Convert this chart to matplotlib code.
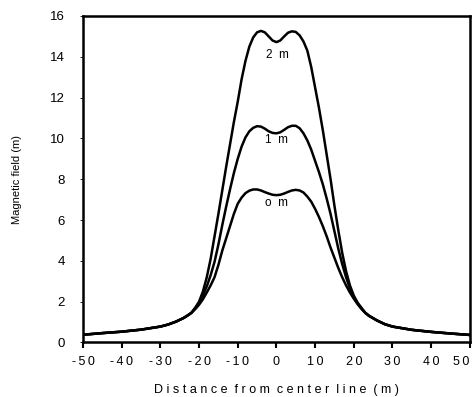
import matplotlib
matplotlib.use('Agg')
import matplotlib.pyplot as plt

plt.rcParams['font.family'] = ['Liberation Sans', 'DejaVu Sans']

# Distance from center line (m)
distance = [-50, -45, -40, -35, -30, -28, -26, -24, -23,
            -22, -21, -20, -19, -18, -17, -16, -15, -14, -13, -12, -11, -10,
            -9, -8, -7, -6, -5, -4, -3, -2, -1, 0, 1, 2, 3, 4, 5, 6, 7, 8,
            9, 10, 11, 12, 13, 14, 15, 16, 17, 18, 19, 20, 21, 22,
            23, 24, 26, 28, 30, 35, 40, 45, 50]

# Magnetic field for each height
field_0m = [0.38, 0.46, 0.53, 0.63, 0.78, 0.88, 1.02, 1.2, 1.32,
            1.45, 1.63, 1.85, 2.12, 2.45, 2.8, 3.2, 3.8, 4.5, 5.1, 5.7, 6.3, 6.8,
            7.1, 7.32, 7.44, 7.5, 7.5, 7.45, 7.37, 7.3, 7.24, 7.22, 7.24, 7.3, 7.38, 7.45, 7.48, 7.45, 7.35, 7.15,
            6.9, 6.55, 6.15, 5.7, 5.2, 4.65, 4.15, 3.65, 3.2, 2.8, 2.45, 2.15, 1.88, 1.65,
            1.45, 1.3, 1.08, 0.9, 0.78, 0.62, 0.52, 0.44, 0.37]
field_1m = [0.38, 0.46, 0.53, 0.63, 0.78, 0.88, 1.02, 1.2, 1.32,
            1.45, 1.68, 1.95, 2.3, 2.75, 3.3, 3.95, 4.8, 5.75, 6.65, 7.5, 8.3, 9.0,
            9.6, 10.05, 10.35, 10.52, 10.6, 10.58, 10.48, 10.35, 10.27, 10.25, 10.3, 10.42, 10.55, 10.62, 10.62, 10.5, 10.25, 9.9,
            9.45, 8.9, 8.35, 7.75, 7.05, 6.3, 5.45, 4.6, 3.85, 3.2, 2.65, 2.2, 1.9, 1.65,
            1.45, 1.3, 1.08, 0.9, 0.78, 0.62, 0.52, 0.44, 0.37]
field_2m = [0.38, 0.46, 0.53, 0.63, 0.78, 0.88, 1.02, 1.2, 1.32,
            1.45, 1.7, 2.0, 2.5, 3.2, 4.1, 5.2, 6.3, 7.45, 8.6, 9.7, 10.8, 11.8,
            12.9, 13.8, 14.5, 14.95, 15.2, 15.27, 15.2, 15.0, 14.8, 14.72, 14.8, 15.0, 15.18, 15.25, 15.22, 15.05, 14.75, 14.3,
            13.5, 12.5, 11.5, 10.4, 9.2, 8.0, 6.7, 5.5, 4.4, 3.5, 2.8, 2.3, 1.95, 1.7,
            1.45, 1.3, 1.08, 0.9, 0.78, 0.62, 0.52, 0.44, 0.37]

curve_labels = ['o  m', '1  m', '2  m']
label_pos = [(0, 6.85), (0, 9.9), (0.3, 14.1)]

fig = plt.figure(figsize=(4.76, 3.97), dpi=100)
ax = fig.add_axes([0.1744, 0.1373, 0.8126, 0.8224])

for y in (field_0m, field_1m, field_2m):
    ax.plot(distance, y, color='black', linewidth=1.8, solid_joinstyle='round')

for txt, (x, y) in zip(curve_labels, label_pos):
    ax.text(x, y, txt, ha='center', va='center', fontsize=8.5)

ax.set_xlim(-50, 50)
ax.set_ylim(0, 16)
ax.set_xticks(range(-50, 51, 10))
ax.set_yticks(range(0, 17, 2))
ax.set_xticklabels(['\u2009'.join(str(v)) for v in range(-50, 51, 10)], fontsize=9)
ax.get_xticklabels()[-1].set_horizontalalignment('right')
ax.tick_params(axis='x', direction='out', length=4, width=1.5, pad=6)
ax.tick_params(axis='y', direction='out', length=2, width=0.6, labelsize=9.5, pad=11)
for s in ax.spines.values():
    s.set_linewidth(1.8)

ax.set_xlabel(' '.join('Distance from center line (m)').replace('   ', '  '), fontsize=9, labelpad=11)
ax.set_ylabel('Magnetic field (m)', fontsize=8)
ax.yaxis.set_label_coords(-0.158, 0.5)

fig.savefig('out.png', dpi=100)
